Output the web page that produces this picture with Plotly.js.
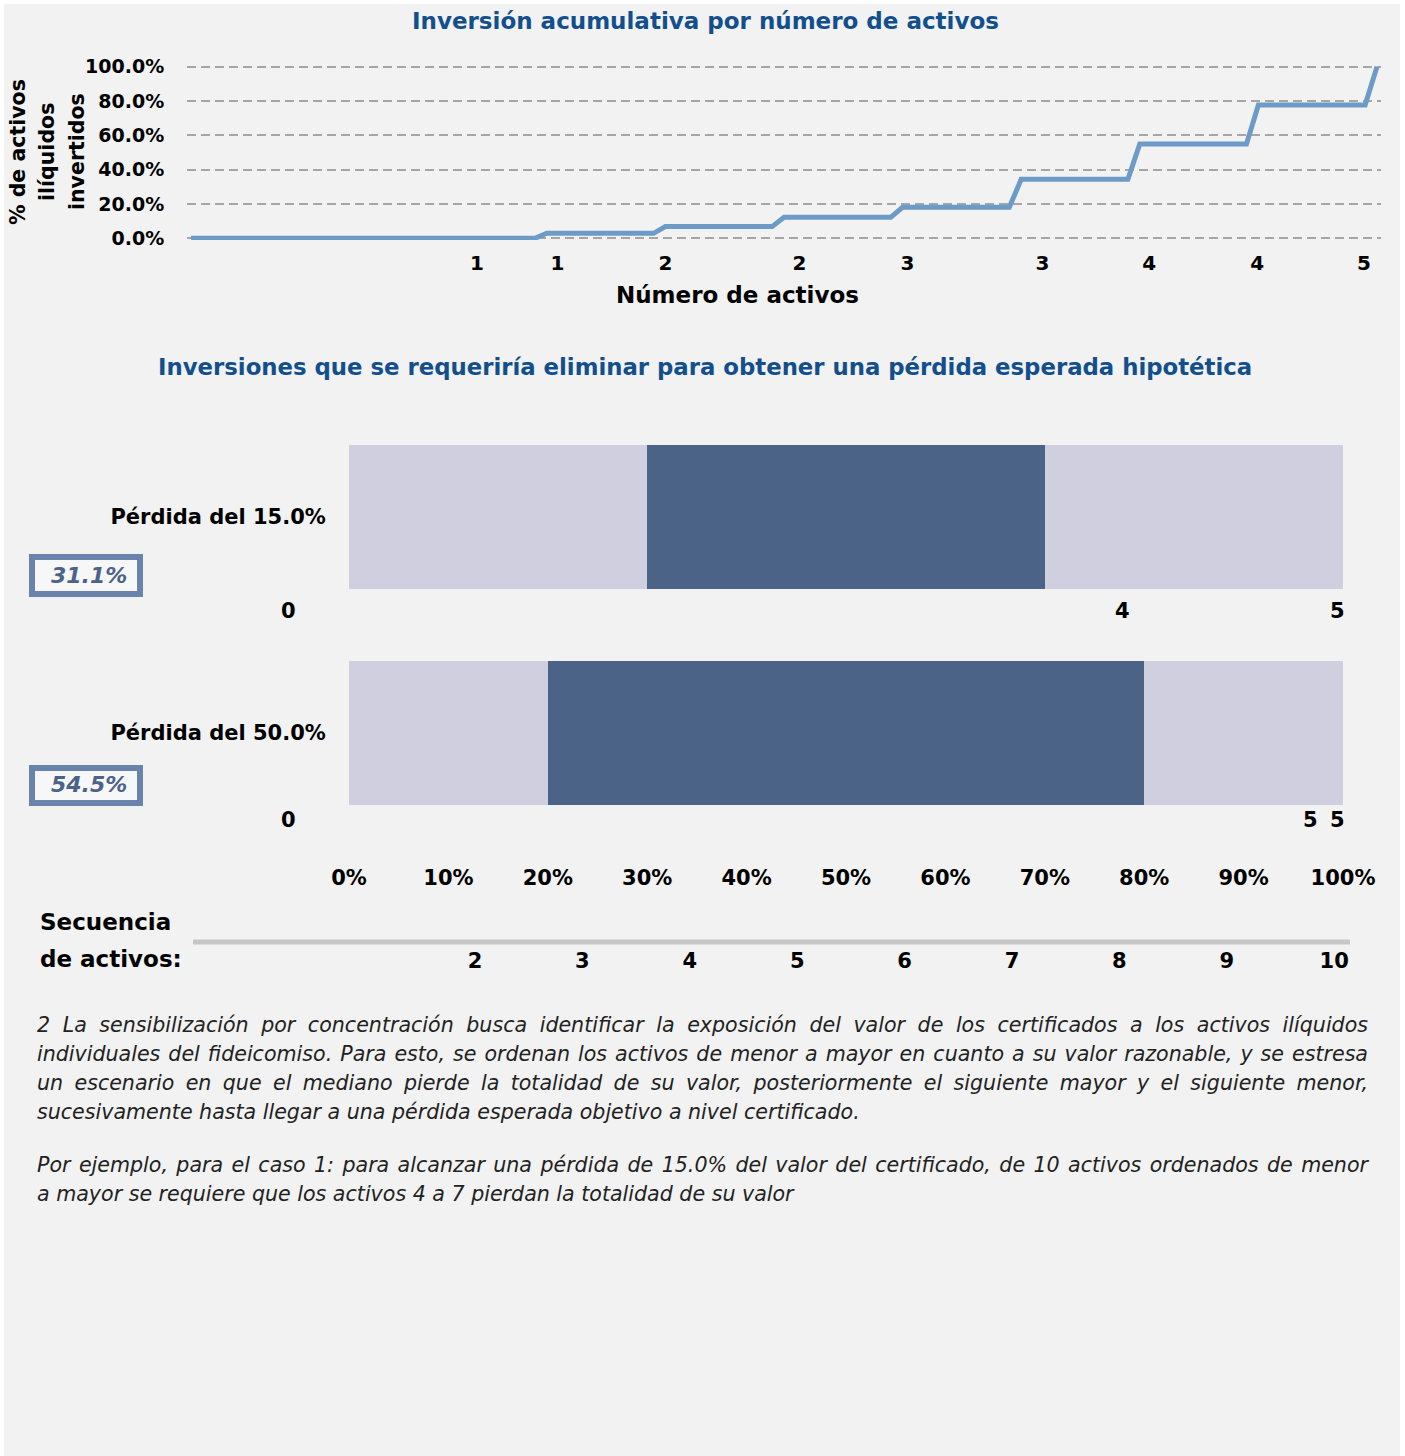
<!DOCTYPE html>
<html><head><meta charset="utf-8">
<script src="https://cdn.plot.ly/plotly-3.0.1.min.js"></script>
<style>
html,body{margin:0;padding:0;background:#ffffff;}
#wrap{position:relative;width:1405px;height:1456px;overflow:hidden;}
#chart{position:absolute;left:4px;top:4px;width:1396px;height:1452px;}
.note{position:absolute;left:37px;width:1331px;font-family:"DejaVu Sans",sans-serif;font-style:italic;font-size:20.6px;color:#222222;line-height:29px;}
.note div{white-space:nowrap;}
.note .j{text-align:justify;text-align-last:justify;}
</style></head>
<body><div id="wrap"><div id="chart"></div>
<div class="note" id="note1" style="top:1011px"></div>
<div class="note" id="note2" style="top:1151px"></div>
</div>
<script>
// ---------- DATA ----------
const title1 = "Inversión acumulativa por número de activos";
const title2 = "Inversiones que se requeriría eliminar para obtener una pérdida esperada hipotética";
// cumulative line: breakpoints (asset index position, % invested)
const stepX = [0, 29, 30, 39, 40, 49, 50, 59, 60, 69, 70, 79, 80, 89, 90, 99, 100];
const stepY = [0, 0, 2.9, 2.9, 6.8, 6.8, 12.2, 12.2, 18.1, 18.1, 34.4, 34.4, 55.0, 55.0, 77.7, 77.7, 100];
const lineTickPos = [24.1, 30.9, 40.0, 51.3, 60.4, 71.8, 80.8, 89.9, 98.9];
const lineTickText = ["1", "1", "2", "2", "3", "3", "4", "4", "5"];
const yTickVals = [0, 20, 40, 60, 80, 100];
const yTickText = ["0.0%", "20.0%", "40.0%", "60.0%", "80.0%", "100.0%"];
const yTitleLines = ["% de activos", "ilíquidos", "invertidos"];
const xTitle = "Número de activos";

// loss scenarios (stacked horizontal bars, % of sequence)
const lossLabels = ["Pérdida del 15.0%", "Pérdida del 50.0%"];
const keptBefore = [30, 20];
const eliminated = [40, 60];
const keptAfter = [30, 20];
const boxValues = ["31.1%", "54.5%"];
const rowTagText = [["0", "4", "5"], ["0", "5", "5"]];
const rowTagPos = [[-6.1, 77.8, 99.4], [-6.1, 96.7, 99.4]];
const pctTicks = [0, 10, 20, 30, 40, 50, 60, 70, 80, 90, 100];
const pctTickText = ["0%", "10%", "20%", "30%", "40%", "50%", "60%", "70%", "80%", "90%", "100%"];
const seqTitle = ["Secuencia", "de activos:"];
const seqNumbers = [2, 3, 4, 5, 6, 7, 8, 9, 10];

const note1 = [
  "2 La sensibilización por concentración busca identificar la exposición del valor de los certificados a los activos ilíquidos",
  "individuales del fideicomiso. Para esto, se ordenan los activos de menor a mayor en cuanto a su valor razonable, y se estresa",
  "un escenario en que el mediano pierde la totalidad de su valor, posteriormente el siguiente mayor y el siguiente menor,",
  "sucesivamente hasta llegar a una pérdida esperada objetivo a nivel certificado."
];
const note2 = [
  "Por ejemplo, para el caso 1: para alcanzar una pérdida de 15.0% del valor del certificado, de 10 activos ordenados de menor",
  "a mayor se requiere que los activos 4 a 7 pierdan la totalidad de su valor"
];

// ---------- LAYOUT HELPERS ----------
const W = 1396, H = 1452, OX = 4, OY = 4;
const px = x => (x - OX) / W;
const py = y => 1 - (y - OY) / H;
const FONT = "DejaVu Sans, sans-serif";
const BLUE = "#134f8c";
const CLEAR = "rgba(0,0,0,0)";

function fillNote(id, lines) {
  const el = document.getElementById(id);
  lines.forEach((t, i) => {
    const d = document.createElement("div");
    if (i < lines.length - 1) d.className = "j";
    d.textContent = t;
    el.appendChild(d);
  });
}
fillNote("note1", note1);
fillNote("note2", note2);

// ---------- TRACES ----------
const traces = [
  {type: "scatter", mode: "lines", x: stepX, y: stepY, xaxis: "x", yaxis: "y",
   line: {color: "#6c9bc7", width: 5}, cliponaxis: false, hoverinfo: "skip"},
  {type: "bar", orientation: "h", y: lossLabels, x: keptBefore, xaxis: "x2", yaxis: "y2",
   marker: {color: "#cfcfdf", line: {width: 0}}, hoverinfo: "skip"},
  {type: "bar", orientation: "h", y: lossLabels, x: eliminated, xaxis: "x2", yaxis: "y2",
   marker: {color: "#4a6387", line: {width: 0}}, hoverinfo: "skip"},
  {type: "bar", orientation: "h", y: lossLabels, x: keptAfter, xaxis: "x2", yaxis: "y2",
   marker: {color: "#cfcfdf", line: {width: 0}}, hoverinfo: "skip"},
  {type: "scatter", mode: "markers", x: seqNumbers, y: seqNumbers.map(() => 0), xaxis: "x3", yaxis: "y3",
   marker: {opacity: 0}, hoverinfo: "skip"}
];

// ---------- ANNOTATIONS ----------
const ann = [];
ann.push({text: title1, x: px(705.5), y: py(21), xref: "paper", yref: "paper", showarrow: false,
  xanchor: "center", yanchor: "middle", font: {size: 23, color: BLUE, weight: "bold"}});
ann.push({text: title2, x: px(705), y: py(367), xref: "paper", yref: "paper", showarrow: false,
  xanchor: "center", yanchor: "middle", font: {size: 22.8, color: BLUE, weight: "bold"}});
const yTitleX = [18, 47, 77];
yTitleLines.forEach((t, i) => ann.push({text: t, x: px(yTitleX[i]), y: py(152), xref: "paper", yref: "paper",
  showarrow: false, textangle: -90, xanchor: "center", yanchor: "middle", font: {size: 20.5, weight: "bold"}}));
ann.push({text: xTitle, x: px(737), y: py(295), xref: "paper", yref: "paper", showarrow: false,
  xanchor: "center", yanchor: "middle", font: {size: 23, weight: "bold"}});

const rowTagY = [611, 820];
rowTagText.forEach((row, r) => row.forEach((t, k) => ann.push({text: t, x: rowTagPos[r][k] / 100, xref: "x2 domain",
  y: py(rowTagY[r]), yref: "paper", showarrow: false, xanchor: "center", yanchor: "middle",
  font: {size: 21, weight: "bold"}})));

const boxTop = [554, 765], boxBot = [597, 806], boxTextY = [575, 784];
const shapes = [];
boxValues.forEach((v, i) => {
  shapes.push({type: "rect", xref: "paper", yref: "paper", x0: px(32), x1: px(140),
    y0: py(boxTop[i] + 3), y1: py(boxBot[i] - 3), line: {color: "#6a83ad", width: 6}, fillcolor: "#f7f7f7", layer: "above"});
  ann.push({text: v, x: px(129), y: py(boxTextY[i]), xref: "paper", yref: "paper", showarrow: false,
    xanchor: "right", yanchor: "middle", font: {size: 22, color: "#4b6389", weight: "bold", style: "italic"}});
});
// sequence rule line
shapes.push({type: "line", xref: "paper", yref: "paper", x0: px(193), x1: px(1350), y0: py(942), y1: py(942),
  line: {color: "#c6c6c6", width: 5}});
ann.push({text: seqTitle[0], x: px(38), y: py(922), xref: "paper", yref: "paper", showarrow: false,
  xanchor: "left", yanchor: "middle", font: {size: 23, weight: "bold"}});
ann.push({text: seqTitle[1], x: px(38), y: py(959), xref: "paper", yref: "paper", showarrow: false,
  xanchor: "left", yanchor: "middle", font: {size: 23, weight: "bold"}});

// ---------- LAYOUT ----------
const layout = {
  width: W, height: H, margin: {l: 0, r: 0, t: 0, b: 0},
  paper_bgcolor: "#f2f2f2", plot_bgcolor: CLEAR, showlegend: false,
  barmode: "stack", bargap: 1 / 3,
  font: {family: FONT, color: "#000000"},
  xaxis: {domain: [px(187), px(1381)], range: [-0.34, 100.34], anchor: "y",
    tickmode: "array", tickvals: lineTickPos, ticktext: lineTickText,
    ticks: "outside", ticklen: 5, tickcolor: CLEAR, showgrid: false, zeroline: false, showline: false,
    tickfont: {size: 20, weight: "bold"}, fixedrange: true},
  yaxis: {domain: [py(240), py(65)], range: [-1, 101], anchor: "x",
    tickmode: "array", tickvals: yTickVals, ticktext: yTickText,
    ticks: "outside", ticklen: 18, tickcolor: CLEAR, showgrid: true, gridcolor: "#a6a6a6", gridwidth: 2,
    griddash: "9px,5px", zeroline: false, showline: false, tickfont: {size: 19, weight: "bold"}, fixedrange: true},
  xaxis2: {domain: [px(349), px(1343)], range: [0, 100], anchor: "y2",
    tickmode: "array", tickvals: pctTicks, ticktext: pctTickText,
    ticks: "outside", ticklen: 18, tickcolor: CLEAR, showgrid: false, zeroline: false, showline: false,
    tickfont: {size: 21, weight: "bold"}, fixedrange: true},
  yaxis2: {domain: [py(841), py(409)], type: "category", range: [1.5, -0.5], anchor: "x2",
    ticks: "outside", ticklen: 18, tickcolor: CLEAR, showgrid: false, zeroline: false, showline: false,
    tickfont: {size: 21, weight: "bold"}, fixedrange: true},
  xaxis3: {domain: [px(193), px(1350)], range: [-0.626, 10.147], anchor: "y3",
    tickmode: "array", tickvals: seqNumbers,
    ticks: "outside", ticklen: 2, tickcolor: CLEAR, showgrid: false, zeroline: false, showline: false,
    tickfont: {size: 21, weight: "bold"}, fixedrange: true},
  yaxis3: {domain: [py(940), py(940) + 0.002], range: [-1, 1], anchor: "x3", visible: false, fixedrange: true},
  annotations: ann,
  shapes: shapes
};

Plotly.newPlot("chart", traces, layout, {displayModeBar: false, staticPlot: true});
</script></body></html>
